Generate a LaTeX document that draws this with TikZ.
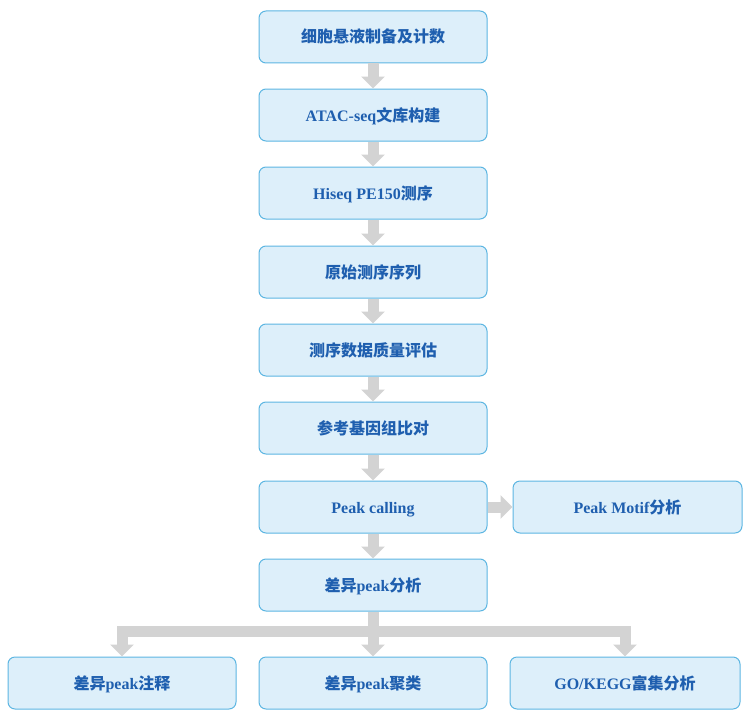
\documentclass[tikz,border=0pt]{standalone}
\usepackage{fontspec}
\setmainfont{Liberation Serif}
\newfontfamily\cjk{Noto Sans CJK SC}
\usetikzlibrary{arrows.meta}
\definecolor{boxfill}{HTML}{DDEFFA}
\definecolor{boxline}{HTML}{5DB6E2}
\definecolor{txtblue}{HTML}{1F5FAF}
\definecolor{arrgray}{HTML}{D3D3D3}
\tikzset{
  flowbox/.style={draw=boxline, line width=1pt, fill=boxfill, rounded corners=7pt,
    minimum width=228pt, minimum height=52pt, inner sep=0pt,
    text height=14pt, text depth=2pt,
    text=txtblue, font=\fontsize{16}{19}\selectfont\bfseries},
  flowarrow/.style={draw=arrgray, line width=11pt,
    -{Triangle[width=23pt 0, length=12pt 0]}},
  flowline/.style={draw=arrgray, line width=11pt}
}
\newcommand{\zh}[1]{{\cjk\bfseries #1}}
\begin{document}
\begin{tikzpicture}[x=1pt,y=-1pt]
\useasboundingbox (0,0) rectangle (752,717);
\node[flowbox] (b1) at (373,37) {\zh{细胞悬液制备及计数}};
\node[flowbox] (b2) at (373,115) {ATAC-seq\zh{文库构建}};
\node[flowbox] (b3) at (373,193) {Hiseq PE150\zh{测序}};
\node[flowbox] (b4) at (373,272) {\zh{原始测序序列}};
\node[flowbox] (b5) at (373,350) {\zh{测序数据质量评估}};
\node[flowbox] (b6) at (373,428) {\zh{参考基因组比对}};
\node[flowbox] (b7) at (373,507) {Peak calling};
\node[flowbox, minimum width=229pt] (side) at (627.5,507) {Peak Motif\zh{分析}};
\node[flowbox] (b8) at (373,585) {\zh{差异}peak\zh{分析}};
\node[flowbox] (c1) at (122,683) {\zh{差异}peak\zh{注释}};
\node[flowbox] (c2) at (373,683) {\zh{差异}peak\zh{聚类}};
\node[flowbox, minimum width=230pt] (c3) at (625,683) {GO/KEGG\zh{富集分析}};
\foreach \a/\b in {b1/b2,b2/b3,b3/b4,b4/b5,b5/b6,b6/b7,b7/b8}
  \draw[flowarrow] (\a.south) -- (\b.north);
\draw[flowarrow] (b7.east) -- (side.west);
\coordinate (jn) at (373,631);
\coordinate (jl) at (122,631);
\coordinate (jr) at (625,631);
\draw[flowline] (b8.south) -- ([yshift=5.5pt]jn);
\draw[flowline, line cap=rect] (jl) -- (jr);
\draw[flowarrow] (jl) -- (c1.north);
\draw[flowarrow] (jn) -- (c2.north);
\draw[flowarrow] (jr) -- (c3.north);
\end{tikzpicture}
\end{document}
